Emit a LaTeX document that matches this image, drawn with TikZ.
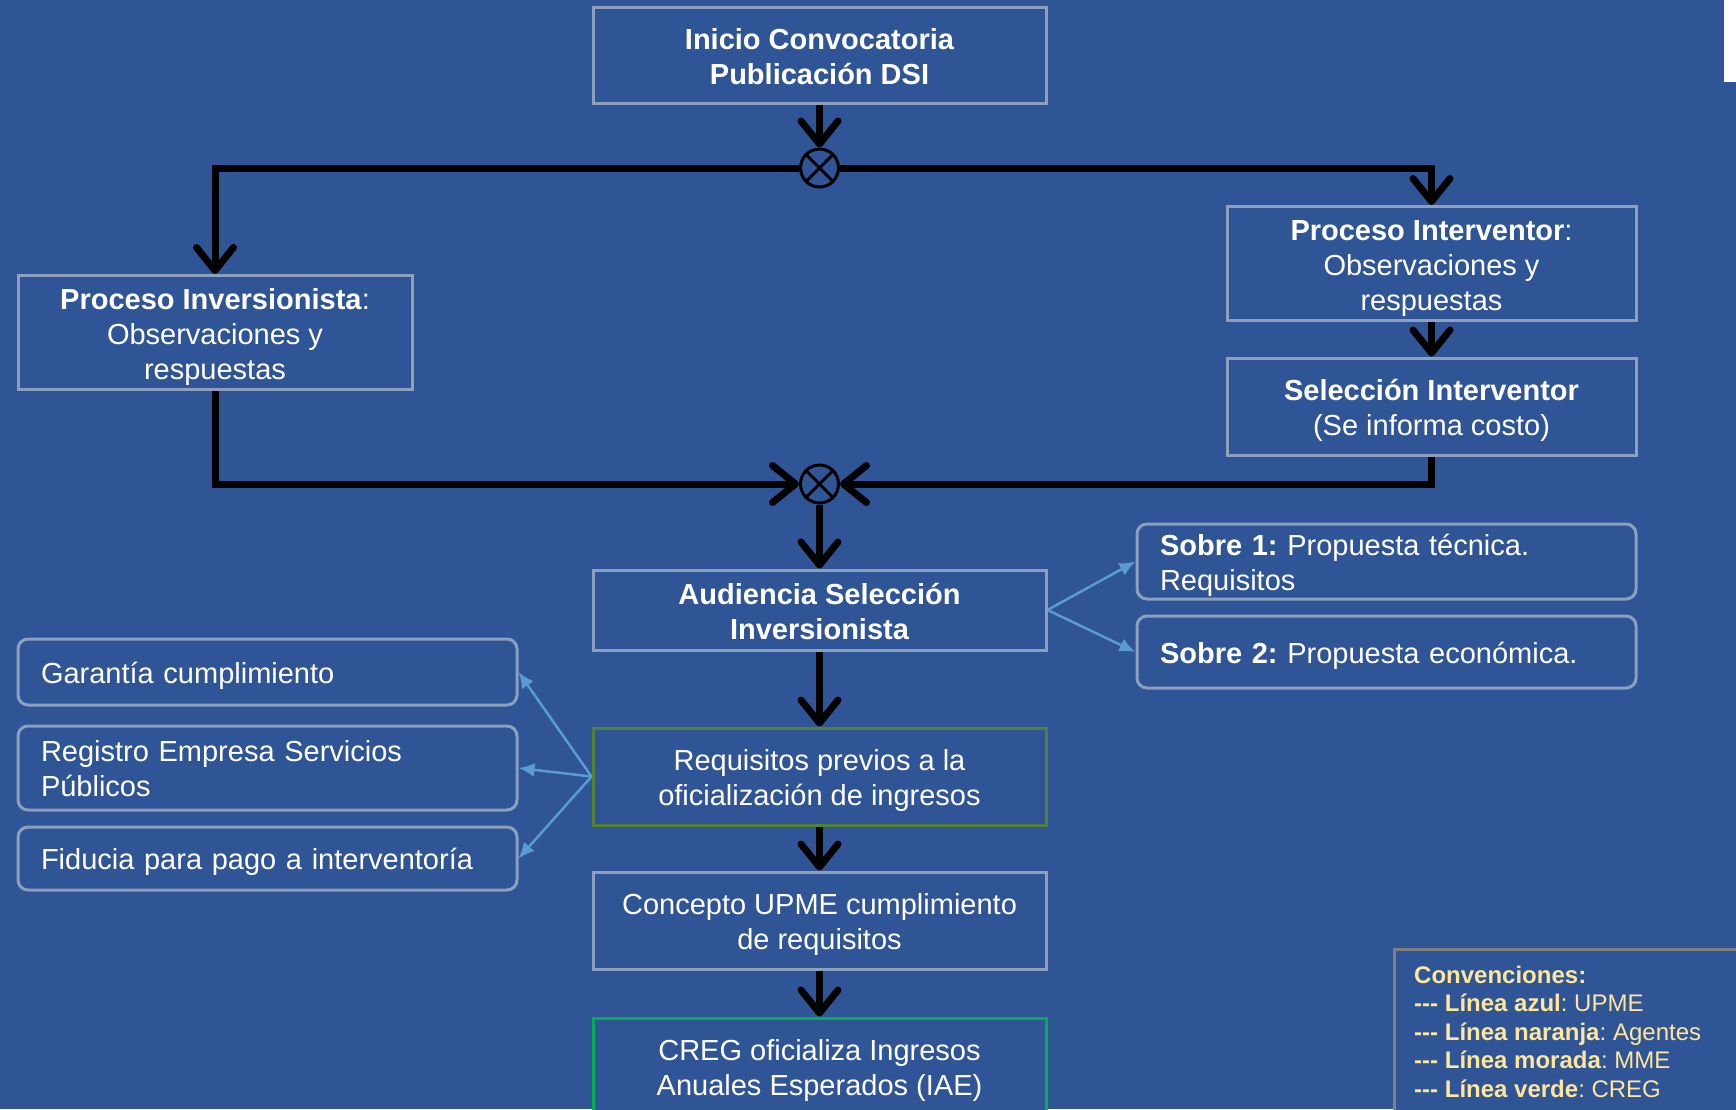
\documentclass[tikz,border=0pt]{standalone}
\usepackage{fontspec}
\setmainfont{Liberation Sans}
\usetikzlibrary{arrows.meta}
\definecolor{bg}{RGB}{47,85,151}
\definecolor{boxline}{RGB}{140,160,190}
\definecolor{upmeblue}{RGB}{91,155,213}
\definecolor{olivegreen}{RGB}{84,130,53}
\definecolor{cregreen}{RGB}{0,176,80}
\definecolor{legendtext}{RGB}{255,230,153}
\definecolor{legendline}{RGB}{128,128,128}
\frenchspacing
\newcommand{\ctext}[1]{\raisebox{0pt}[\dimexpr\height+9pt\relax][\depth]{\begin{tabular}{@{}c@{}}#1\end{tabular}}}
\begin{document}
\begin{tikzpicture}[x=1pt,y=1pt,
  commonbox/.style={draw=boxline, line width=3pt, fill=bg, text=white, inner sep=0pt,
    font=\fontsize{29}{35}\selectfont\frenchspacing},
  mainbox/.style={commonbox},
  roundbox/.style={commonbox, rounded corners=10pt, align=left, inner xsep=23pt, inner ysep=0pt, text width=453pt,
    execute at begin node={\rule{0pt}{29pt}}, execute at end node={\rule[-6.1pt]{0pt}{6.1pt}}},
  flowarrow/.style={line width=7pt, draw=black, line join=miter, -{Straight Barb[length=23pt,width=37pt,round]}},
  junc/.style={circle, draw=black, line width=3pt, fill=bg, minimum size=38pt, inner sep=0pt},
  bluearrow/.style={draw=upmeblue, line width=2.5pt, -{Latex[length=16pt,width=14pt]}}
]
\useasboundingbox (0,0) rectangle (1736,-1109);
\fill[bg] (0,0) rectangle (1736,-1109);
\fill[white] (1724,0) rectangle (1736,-82);

% main boxes
\node[mainbox, minimum width=453pt, minimum height=96pt] (inicio) at (819.5,-55) {\ctext{\bfseries Inicio Convocatoria\\\bfseries Publicación DSI}};
\node[mainbox, minimum width=394pt, minimum height=113pt] (inv) at (215,-332.5) {\ctext{\textbf{Proceso Inversionista}:\\Observaciones y\\respuestas}};
\node[mainbox, minimum width=409pt, minimum height=113pt] (intv) at (1431.5,-263.5) {\ctext{\textbf{Proceso Interventor}:\\Observaciones y\\respuestas}};
\node[mainbox, minimum width=409pt, minimum height=97pt] (sel) at (1431.5,-406.5) {\ctext{\textbf{Selección Interventor}\\(Se informa costo)}};
\node[mainbox, minimum width=453pt, minimum height=80pt] (aud) at (819.5,-610) {\ctext{\bfseries Audiencia Selección\\\bfseries Inversionista}};
\node[mainbox, draw=olivegreen, minimum width=453pt, minimum height=97pt] (req) at (819.5,-776.5) {\ctext{Requisitos previos a la\\oficialización de ingresos}};
\node[mainbox, minimum width=453pt, minimum height=97pt] (con) at (819.5,-920.5) {\ctext{Concepto UPME cumplimiento\\de requisitos}};
\node[mainbox, draw=cregreen, minimum width=453pt, minimum height=97pt] (creg) at (819.5,-1066.5) {\ctext{CREG oficializa Ingresos\\Anuales Esperados (IAE)}};

% rounded boxes
\node[roundbox, minimum height=75pt] (sob1) at (1386.5,-561.5) {\textbf{Sobre 1:} Propuesta técnica.\\Requisitos};
\node[roundbox, minimum height=72pt] (sob2) at (1386.5,-652) {\textbf{Sobre 2:} Propuesta económica.};
\node[roundbox, minimum height=66pt] (gar) at (267.5,-672) {Garantía cumplimiento};
\node[roundbox, minimum height=84pt] (reg) at (267.5,-768) {Registro Empresa Servicios\\Públicos};
\node[roundbox, minimum height=63pt] (fid) at (267.5,-858.5) {Fiducia para pago a interventoría};

% junctions
\node[junc] (j1) at (819.5,-168) {};
\node[junc] (j2) at (819.5,-484) {};
\foreach \j in {j1,j2}{
  \draw[line width=3pt] (\j.north west) -- (\j.south east);
  \draw[line width=3pt] (\j.north east) -- (\j.south west);
}

% black flow
\draw[flowarrow] (inicio.south) -- (j1.north);
\draw[flowarrow] (j1.west) -| (inv.north);
\draw[flowarrow] (j1.east) -| (intv.north);
\draw[flowarrow] (intv.south) -- (sel.north);
\draw[flowarrow] (inv.south) |- (j2.west);
\draw[flowarrow] (sel.south) |- (j2.east);
\draw[flowarrow] (j2.south) -- (aud.north);
\draw[flowarrow] (aud.south) -- (req.north);
\draw[flowarrow] (req.south) -- (con.north);
\draw[flowarrow] (con.south) -- (creg.north);

% blue links
\draw[bluearrow] (aud.east) -- (sob1.west);
\draw[bluearrow] (aud.east) -- (sob2.west);
\draw[bluearrow] (req.west) -- (gar.east);
\draw[bluearrow] (req.west) -- (reg.east);
\draw[bluearrow] (req.west) -- (fid.east);

% legend
\draw[legendline, line width=3pt, fill=bg] (1394,-949) rectangle (1750,-1120);
\node[anchor=north west, inner sep=0pt, align=left, text=legendtext, font=\fontsize{24}{28.6}\selectfont\frenchspacing] (legend) at (1414,-965.5)
  {\textbf{Convenciones:}\\
   \textbf{-{}-{}- Línea azul}: UPME\\
   \textbf{-{}-{}- Línea naranja}: Agentes\\
   \textbf{-{}-{}- Línea morada}: MME\\
   \textbf{-{}-{}- Línea verde}: CREG};
\end{tikzpicture}
\end{document}
